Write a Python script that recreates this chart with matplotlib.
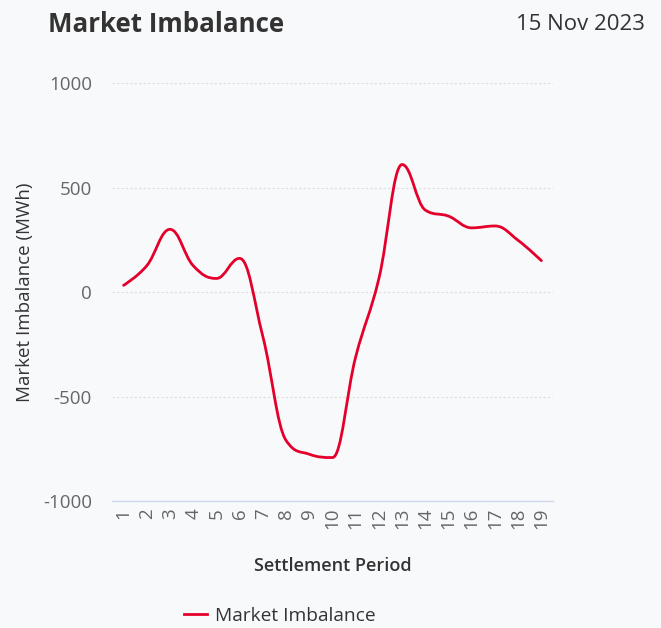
import matplotlib.pyplot as plt
from matplotlib.path import Path
from matplotlib.patches import PathPatch
from matplotlib.lines import Line2D

plt.rcParams["font.family"] = ["Open Sans", "DejaVu Sans"]

# ===== Data =====
periods = list(range(1, 20))
imbalance = [32, 126, 300, 126, 65, 161, -213, -710, -776, -792,
             -310, 65, 610, 392, 363, 307, 316, 247, 150]
y_ticks = [-1000, -500, 0, 500, 1000]

title = "Market Imbalance"
date_label = "15 Nov 2023"
series_name = "Market Imbalance"

line_color = "#e4002b"
bg = "#f8f9fb"


def spline_path(xs, ys, smoothing=1.5):
    # highcharts-style bezier spline through the points
    denom = smoothing + 1
    verts = [(xs[0], ys[0])]
    codes = [Path.MOVETO]
    right_prev = (xs[0], ys[0])
    n = len(xs)
    for i in range(1, n):
        x, y = xs[i], ys[i]
        lx, ly = xs[i - 1], ys[i - 1]
        if i < n - 1:
            nx, ny = xs[i + 1], ys[i + 1]
            lcx = (smoothing * x + lx) / denom
            lcy = (smoothing * y + ly) / denom
            rcx = (smoothing * x + nx) / denom
            rcy = (smoothing * y + ny) / denom
            corr = (rcy - lcy) * (rcx - x) / (rcx - lcx) + y - rcy
            lcy += corr
            rcy += corr
            if lcy > ly and lcy > y:
                lcy = max(ly, y)
                rcy = 2 * y - lcy
            elif lcy < ly and lcy < y:
                lcy = min(ly, y)
                rcy = 2 * y - lcy
            if rcy > ny and rcy > y:
                rcy = max(ny, y)
                lcy = 2 * y - rcy
            elif rcy < ny and rcy < y:
                rcy = min(ny, y)
                lcy = 2 * y - rcy
        else:
            lcx, lcy = x, y
            rcx, rcy = x, y
        verts += [right_prev, (lcx, lcy), (x, y)]
        codes += [Path.CURVE4] * 3
        right_prev = (rcx, rcy)
    return Path(verts, codes)


fig = plt.figure(figsize=(6.61, 6.28), dpi=100, facecolor=bg)
ax = fig.add_axes([0.1694, 0.2022, 0.6672, 0.6656], facecolor=bg)

ax.add_patch(PathPatch(spline_path(periods, imbalance), facecolor="none",
                       edgecolor=line_color, lw=2.0, capstyle="round",
                       joinstyle="round"))

ax.set_xlim(0.5, 19.5)
ax.set_ylim(-1000, 1000)

# dotted gridlines (bottom one is the axis line)
for v in y_ticks[1:]:
    ax.axhline(v, color="#dcdcdc", lw=0.8, ls=(0, (2, 2)), zorder=0)

for s in ["top", "right", "left"]:
    ax.spines[s].set_visible(False)
ax.spines["bottom"].set_color("#ccd6eb")
ax.spines["bottom"].set_linewidth(1)

ax.set_yticks(y_ticks)
ax.set_yticklabels([str(v) for v in y_ticks])
ax.set_xticks(periods)
ax.set_xticklabels([str(p) for p in periods], rotation=90)
ax.tick_params(axis="y", length=0, pad=14.4, labelsize=13.5, labelcolor="#666666")
ax.tick_params(axis="x", length=0, pad=5, labelsize=13.5, labelcolor="#666666")

ax.set_ylabel("Market Imbalance (MWh)", fontsize=13.5, color="#333333")
ax.yaxis.set_label_coords((34 - 112) / 441, 0.5)
ax.set_xlabel("Settlement Period", fontsize=13, color="#333333", fontweight="semibold")
ax.xaxis.set_label_coords(0.5, -(557 - 501) / 418)

fig.text(48 / 661, 1 - 24 / 628, title, fontsize=18.6, fontweight="bold",
         color="#333333", va="center", ha="left")
fig.text(645 / 661, 1 - 24 / 628, date_label, fontsize=16,
         color="#333333", va="center", ha="right")

handle = Line2D([], [], color=line_color, lw=2.0)
fig.legend([handle], [series_name], loc="center", bbox_to_anchor=(280 / 661, 1 - 616 / 628),
           frameon=False, fontsize=13.8, labelcolor="#333333", handlelength=1.2,
           handletextpad=0.4)

fig.savefig("out.png", dpi=100, facecolor=bg)
